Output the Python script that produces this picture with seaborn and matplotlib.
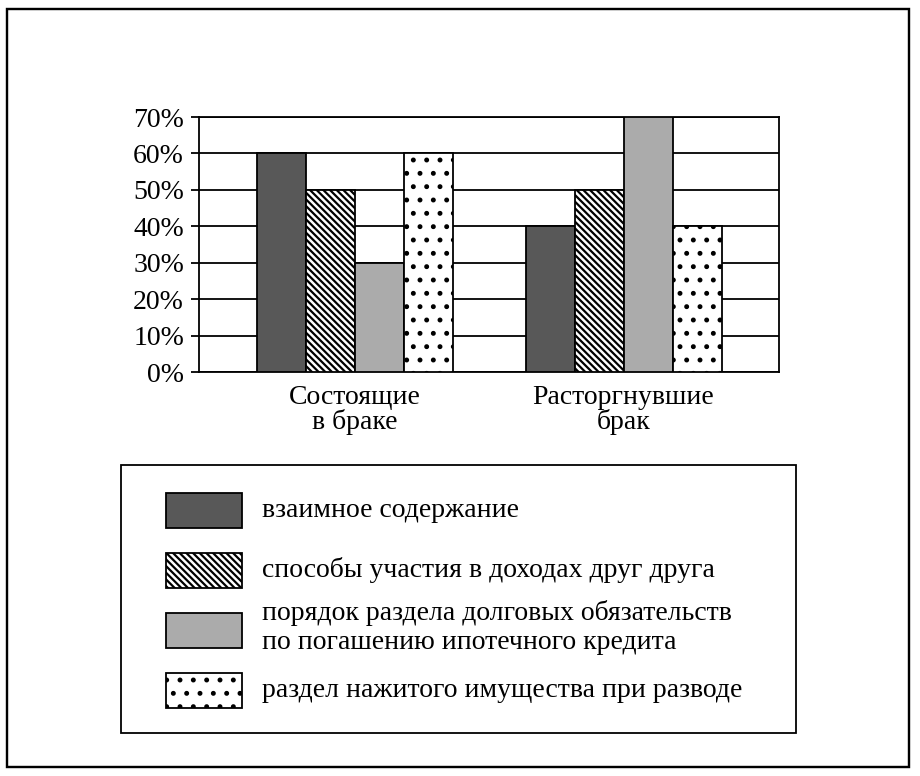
import pandas as pd
import matplotlib
matplotlib.use('Agg')
import matplotlib.pyplot as plt
import seaborn as sns
from matplotlib.patches import Rectangle
from matplotlib.legend_handler import HandlerPatch
from matplotlib.ticker import PercentFormatter

# данные с диаграммы
groups = ['Состоящие\nв браке', 'Расторгнувшие\nбрак']
items = ['взаимное содержание',
         'способы участия в доходах друг друга',
         'порядок раздела долговых обязательств\nпо погашению ипотечного кредита',
         'раздел нажитого имущества при разводе']
married = [60, 50, 30, 60]
divorced = [40, 50, 70, 40]
y_ticks = [0, 10, 20, 30, 40, 50, 60, 70]

face_colors = ['#585858', '#ffffff', '#ababab', '#ffffff']
hatches = ['', '\\\\\\\\', '', '.']

df = pd.DataFrame({
    'group': [groups[0]] * 4 + [groups[1]] * 4,
    'item': items * 2,
    'value': married + divorced,
})

DPI = 80
W, H = 920, 776
PX = 72 / DPI  # пунктов в одном пикселе

sns.set_style('white')
plt.rcParams['font.family'] = ['Liberation Serif', 'DejaVu Serif']
plt.rcParams['hatch.color'] = 'black'
plt.rcParams['hatch.linewidth'] = 2.0
plt.rcParams['text.color'] = 'black'

FS = 25
LW = 1.8 * PX

fig = plt.figure(figsize=(W / DPI, H / DPI), dpi=DPI)
fig.patch.set_facecolor('white')
ax = fig.add_axes([199 / W, 1 - 372 / H, 580 / W, 255 / H])

sns.barplot(data=df, x='group', y='value', hue='item', order=groups,
            hue_order=items, palette=face_colors, saturation=1,
            edgecolor='black', linewidth=LW, width=0.73, gap=0,
            errorbar=None, legend=False, ax=ax)

for cont, hatch in zip(ax.containers, hatches):
    for bar in cont:
        bar.set_hatch(hatch)
        bar.set_zorder(3)

ax.set_xlim(-0.581, 1.579)
ax.set_ylim(0, 70)
ax.set_yticks(y_ticks)
ax.yaxis.set_major_formatter(PercentFormatter(decimals=0))
ax.set_xlabel('')
ax.set_ylabel('')
ax.yaxis.grid(True, color='black', linewidth=LW, zorder=0)
ax.set_axisbelow(True)
for sp in ax.spines.values():
    sp.set_visible(True)
    sp.set_color('black')
    sp.set_linewidth(LW)

ax.tick_params(axis='y', left=True, length=8 * PX, width=LW, color='black',
               pad=7 * PX, labelsize=FS, labelcolor='black')
ax.tick_params(axis='x', bottom=False, length=0, pad=13 * PX,
               labelsize=FS, labelcolor='black')
for t in ax.get_xticklabels():
    t.set_linespacing(0.97)


# маленький прямоугольник в легенде, сдвинутый вправо
SW_W, SW_H, SW_X = 76 * PX, 35 * PX, 31 * PX


def swatch(legend, orig_handle, xdescent, ydescent, width, height, fontsize):
    cy = -ydescent + height / 2 - 1.5 * PX
    return Rectangle((-xdescent + SW_X, cy - SW_H / 2), SW_W, SW_H)


fs_px = FS / PX
box_px = 60
hh = (box_px / fs_px - 0.245) / 0.65
handles = [cont.patches[0] for cont in ax.containers]
leg = fig.legend(handles, items, loc='upper left',
                 bbox_to_anchor=(121 / W, 1 - 465 / H, (796 - 121) / W, 0),
                 mode='expand', borderaxespad=0, fontsize=FS,
                 handlelength=107 / fs_px, handleheight=hh,
                 handletextpad=20 / fs_px, labelspacing=0,
                 borderpad=14 / fs_px, fancybox=False, framealpha=1,
                 edgecolor='black',
                 handler_map={Rectangle: HandlerPatch(patch_func=swatch)})
leg.get_frame().set_linewidth(LW)
for t in leg.get_texts():
    t.set_linespacing(1.18)

# внешняя рамка
fig.add_artist(Rectangle((7 / W, 1 - 767 / H), 902 / W, 758 / H,
                         transform=fig.transFigure, fill=False,
                         edgecolor='black', linewidth=2.4 * PX))

fig.savefig('out.png', dpi=DPI)
plt.close(fig)
